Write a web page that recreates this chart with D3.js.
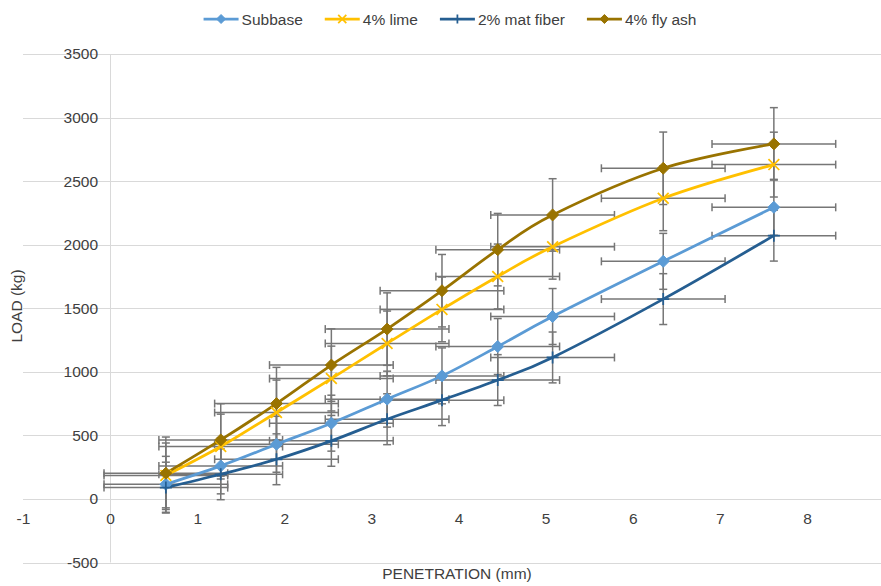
<!DOCTYPE html>
<html>
<head>
<meta charset="utf-8">
<script src="https://cdn.jsdelivr.net/npm/d3@7/dist/d3.min.js"></script>
<style>
  body { margin: 0; background: #fff; }
  svg { display: block; font-family: "Liberation Sans", Arial, sans-serif; }
</style>
</head>
<body>
<svg id="chart" width="881" height="586"></svg>
<script>
// ---- data ----
const penetration = [0.64, 1.27, 1.91, 2.54, 3.18, 3.81, 4.45, 5.08, 6.35, 7.62];
const seriesNames = ["Subbase", "4% lime", "2% mat fiber", "4% fly ash"];
const subbase   = [115, 260, 430, 596, 785, 968, 1199, 1435, 1869, 2294];
const lime      = [185, 412, 680, 947, 1223, 1491, 1750, 1984, 2365, 2630];
const matFiber  = [89, 194, 312, 457, 627, 777, 935, 1113, 1572, 2071];
const flyAsh    = [202, 464, 750, 1053, 1336, 1638, 1961, 2234, 2601, 2793];
const yErrors   = [220, 255, 200, 285];   // +/- error bar per series (kg)
const xError    = 0.71;                   // +/- horizontal error bar (mm)
const xTicks = [-1, 0, 1, 2, 3, 4, 5, 6, 7, 8];
const yTicks = [-500, 0, 500, 1000, 1500, 2000, 2500, 3000, 3500];
const colors = ["#5B9BD5", "#FFC000", "#255E91", "#997300"];
const markers = ["diamond", "x", "plus", "diamond"];

const allValues = [subbase, lime, matFiber, flyAsh];
const series = seriesNames.map((name, i) => ({
  name, color: colors[i], marker: markers[i], err: yErrors[i],
  pts: penetration.map((x, j) => ({ x, y: allValues[i][j] }))
}));

const FONT = "Liberation Sans, Arial, sans-serif";
const FS = 15.5;
const TXT = "#404040";

// ---- layout ----
const svg = d3.select("#chart");
const x = d3.scaleLinear().domain([-1, 8.85]).range([23, 881]);
const y = d3.scaleLinear().domain([-500, 3500]).range([562.5, 54]);

// gridlines
svg.append("g").selectAll("line").data(yTicks).join("line")
  .attr("x1", x(-1)).attr("x2", 881)
  .attr("y1", d => Math.round(y(d)) + 0.5).attr("y2", d => Math.round(y(d)) + 0.5)
  .attr("stroke", "#d9d9d9").attr("stroke-width", 1);
// vertical axis line at x = 0
svg.append("line")
  .attr("x1", Math.round(x(0)) + 0.5).attr("x2", Math.round(x(0)) + 0.5)
  .attr("y1", y(3500)).attr("y2", y(-500))
  .attr("stroke", "#d9d9d9").attr("stroke-width", 1);

// axes (labels only)
const fmt = d => String(d);
const yAxis = svg.append("g").attr("transform", `translate(${x(0)},0)`)
  .call(d3.axisLeft(y).tickValues(yTicks).tickSize(0).tickPadding(12).tickFormat(fmt));
yAxis.select(".domain").remove();
yAxis.attr("font-size", FS).attr("font-family", FONT);
yAxis.selectAll("text").attr("fill", TXT);

const xAxis = svg.append("g").attr("transform", `translate(0,${y(0)})`)
  .call(d3.axisBottom(x).tickValues(xTicks).tickSize(0).tickPadding(14).tickFormat(fmt));
xAxis.select(".domain").remove();
xAxis.attr("font-size", FS).attr("font-family", FONT);
xAxis.selectAll("text").attr("fill", TXT);

// axis titles
svg.append("text").attr("x", 457).attr("y", 579).attr("text-anchor", "middle")
  .attr("font-size", FS).attr("fill", TXT).text("PENETRATION (mm)");
svg.append("text").attr("transform", "translate(22,306) rotate(-90)").attr("text-anchor", "middle")
  .attr("font-size", FS).attr("fill", TXT).text("LOAD (kg)");

// error bars
const errG = svg.append("g").attr("stroke", "#767676").attr("stroke-width", 1.5).attr("fill", "none");
const cap = 4;
series.forEach(s => {
  s.pts.forEach(p => {
    const cx = x(p.x), cy = y(p.y);
    const yt = y(p.y + s.err), yb = y(p.y - s.err);
    const xl = x(p.x - xError), xr = x(p.x + xError);
    errG.append("line").attr("x1", cx).attr("x2", cx).attr("y1", yt).attr("y2", yb);
    errG.append("line").attr("x1", cx - cap).attr("x2", cx + cap).attr("y1", yt).attr("y2", yt);
    errG.append("line").attr("x1", cx - cap).attr("x2", cx + cap).attr("y1", yb).attr("y2", yb);
    errG.append("line").attr("x1", xl).attr("x2", xr).attr("y1", cy).attr("y2", cy);
    errG.append("line").attr("x1", xl).attr("x2", xl).attr("y1", cy - cap).attr("y2", cy + cap);
    errG.append("line").attr("x1", xr).attr("x2", xr).attr("y1", cy - cap).attr("y2", cy + cap);
  });
});

// lines
const line = d3.line().x(d => x(d.x)).y(d => y(d.y)).curve(d3.curveCatmullRom.alpha(0));
series.forEach(s => {
  svg.append("path").datum(s.pts).attr("d", line)
    .attr("fill", "none").attr("stroke", s.color).attr("stroke-width", 2.75)
    .attr("stroke-linejoin", "round").attr("stroke-linecap", "round");
});

// markers
function drawMarker(g, type, cx, cy, color, r) {
  if (type === "diamond") {
    g.append("path").attr("d", `M${cx},${cy - r}L${cx + r},${cy}L${cx},${cy + r}L${cx - r},${cy}Z`)
      .attr("fill", color).attr("stroke", color).attr("stroke-width", 1);
  } else if (type === "x") {
    const k = r * 0.9;
    g.append("path").attr("d", `M${cx - k},${cy - k}L${cx + k},${cy + k}M${cx - k},${cy + k}L${cx + k},${cy - k}`)
      .attr("stroke", color).attr("stroke-width", 1.75).attr("fill", "none");
  } else if (type === "plus") {
    g.append("path").attr("d", `M${cx},${cy - r}L${cx},${cy + r}M${cx - r},${cy}L${cx + r},${cy}`)
      .attr("stroke", color).attr("stroke-width", 1.75).attr("fill", "none");
  }
}
const mG = svg.append("g");
series.forEach(s => {
  s.pts.forEach(p => drawMarker(mG, s.marker, x(p.x), y(p.y), s.color, 6));
});

// legend
const legG = svg.append("g");
let cursor = 0;
series.forEach(s => {
  const g = legG.append("g");
  g.append("line").attr("x1", 0).attr("x2", 35).attr("y1", 0).attr("y2", 0)
    .attr("stroke", s.color).attr("stroke-width", 2.75);
  drawMarker(g, s.marker, 17.5, 0, s.color, 4.5);
  const t = g.append("text").attr("x", 38).attr("y", 5.5).attr("font-size", FS)
    .attr("fill", TXT).text(s.name);
  const w = 38 + t.node().getComputedTextLength();
  g.attr("transform", `translate(${cursor},19)`);
  cursor += w + 22;
});
const totalW = cursor - 22;
legG.attr("transform", `translate(${450 - totalW / 2},0)`);
</script>
</body>
</html>
